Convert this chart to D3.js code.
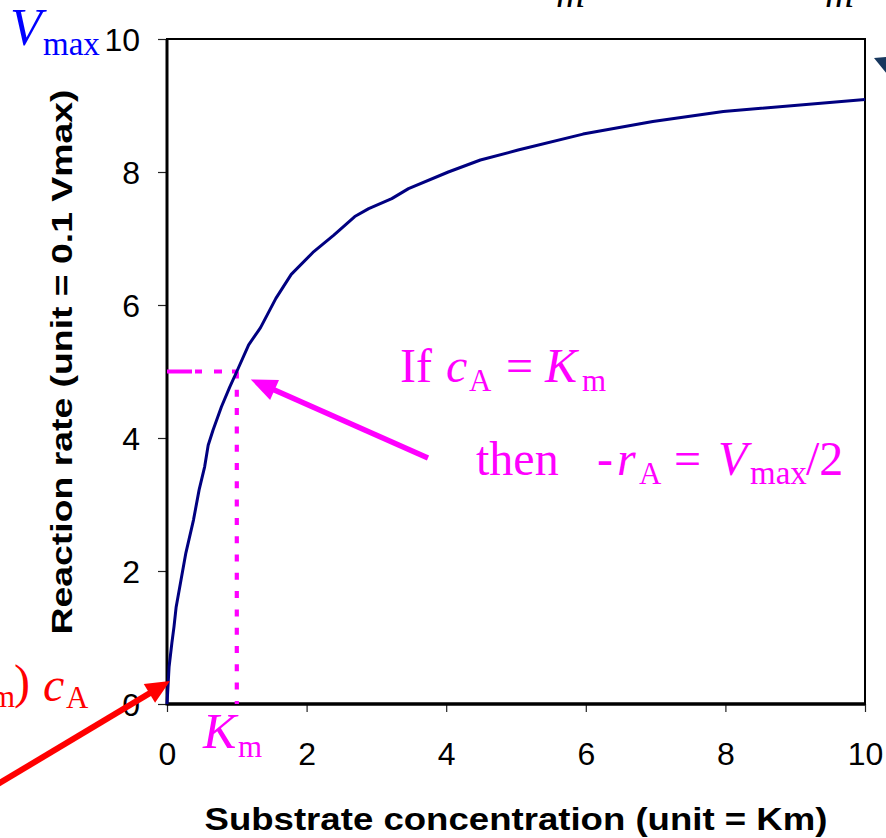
<!DOCTYPE html>
<html>
<head>
<meta charset="utf-8">
<script src="https://cdn.jsdelivr.net/npm/d3@7"></script>
<style>
  html, body { margin: 0; padding: 0; background: #fff; }
  svg { display: block; }
  .tick text { font-family: "Liberation Sans", Arial, sans-serif; }
</style>
</head>
<body>
<svg id="chart" width="886" height="838"></svg>
<script>
// Michaelis-Menten rate curve (measured points)
const substrate = [0, 0.03, 0.07, 0.10, 0.13, 0.20, 0.27, 0.38, 0.46, 0.54, 0.59, 0.66,
  0.78, 0.90, 1.00, 1.17, 1.34, 1.56, 1.78, 2.09, 2.39, 2.69, 2.89, 3.22, 3.46,
  4.03, 4.49, 5.03, 5.96, 6.96, 7.97, 10.0];
const rate = [0, 0.56, 0.92, 1.16, 1.45, 1.86, 2.27, 2.77, 3.22, 3.57, 3.89, 4.12,
  4.47, 4.77, 5.00, 5.40, 5.66, 6.10, 6.46, 6.79, 7.05, 7.33, 7.45, 7.60, 7.75,
  8.00, 8.18, 8.33, 8.57, 8.76, 8.91, 9.09];

const xTicks = [0, 2, 4, 6, 8, 10];
const yTicks = [0, 2, 4, 6, 8, 10];

const Km = 1;          // substrate concentration at half rate
const halfRate = 5;    // Vmax / 2

const xTitle = "Substrate concentration (unit = Km)";
const yTitle = "Reaction rate (unit = 0.1 Vmax)";

const svg = d3.select("#chart");
const serif = '"Liberation Serif", "Times New Roman", serif';
const sans = '"Liberation Sans", Arial, sans-serif';
const MAGENTA = "#ff00ff", RED = "#ff0000", BLUE = "#0000ff";

const x = d3.scaleLinear().domain([0, 10]).range([167, 865]);
const y = d3.scaleLinear().domain([0, 10]).range([704, 39]);

// axes
const gx = svg.append("g").attr("transform", `translate(0,${y(0)})`)
  .call(d3.axisBottom(x).tickValues(xTicks).tickSize(8).tickFormat(d3.format("d")));
gx.select(".domain").remove();
gx.selectAll(".tick line").attr("stroke", "#222").attr("stroke-width", 1.2);
gx.selectAll(".tick text").attr("dy", null).attr("y", 61)
  .attr("font-size", 32).attr("fill", "#000");

const gy = svg.append("g").attr("transform", `translate(${x(0)},0)`)
  .call(d3.axisLeft(y).tickValues(yTicks).tickSize(9).tickPadding(18).tickFormat(d3.format("d")));
gy.select(".domain").remove();
gy.selectAll(".tick line").attr("stroke", "#222").attr("stroke-width", 1.2);
gy.selectAll(".tick text").attr("dy", "0.36em").attr("font-size", 32).attr("fill", "#000");

// plot frame
svg.append("rect").attr("x", x(0)).attr("y", y(10))
  .attr("width", x(10) - x(0)).attr("height", y(0) - y(10))
  .attr("fill", "none").attr("stroke", "#000").attr("stroke-width", 2);
svg.append("line").attr("x1", x(0)).attr("x2", x(0)).attr("y1", y(10)).attr("y2", y(0) + 1.5)
  .attr("stroke", "#000").attr("stroke-width", 3);
svg.append("line").attr("x1", x(0)).attr("x2", x(10)).attr("y1", y(0)).attr("y2", y(0))
  .attr("stroke", "#000").attr("stroke-width", 3.5);

// half-rate guide lines
svg.append("line").attr("x1", x(0)).attr("x2", x(Km)).attr("y1", y(halfRate)).attr("y2", y(halfRate))
  .attr("stroke", MAGENTA).attr("stroke-width", 4).attr("stroke-dasharray", "25,3,7,12,8,10,6");
svg.append("line").attr("x1", x(Km)).attr("x2", x(Km)).attr("y1", y(halfRate)).attr("y2", y(0))
  .attr("stroke", MAGENTA).attr("stroke-width", 4.2).attr("stroke-dasharray", "7,11.3");

// rate curve
const pts = substrate.map((s, i) => [s, rate[i]]);
svg.append("path").datum(pts)
  .attr("d", d3.line().x(d => x(d[0])).y(d => y(d[1])))
  .attr("fill", "none").attr("stroke", "#000080").attr("stroke-width", 3)
  .attr("stroke-linejoin", "round");

// arrows
function arrow(x1, y1, x2, y2, color, w, headLen, headW) {
  const dx = x2 - x1, dy = y2 - y1, L = Math.hypot(dx, dy);
  const ux = dx / L, uy = dy / L, nx = -uy, ny = ux;
  const bx = x2 - ux * headLen, by = y2 - uy * headLen;
  svg.append("line").attr("x1", x1).attr("y1", y1).attr("x2", bx + ux * 2).attr("y2", by + uy * 2)
    .attr("stroke", color).attr("stroke-width", w);
  svg.append("polygon")
    .attr("points", [[x2, y2], [bx + nx * headW / 2, by + ny * headW / 2], [bx - nx * headW / 2, by - ny * headW / 2]].join(" "))
    .attr("fill", color);
}
arrow(428, 458, x(Km) + 14, y(halfRate) + 8, MAGENTA, 5.5, 26, 22);
arrow(-2, 784, x(0) + 3, y(0) - 23, RED, 6, 24, 22);

// navy arrowhead entering from the right edge
svg.append("polygon").attr("points", "874,58 887,57 887,74").attr("fill", "#17375e");

// annotation text helper
function label(txt, px, py, size, color, italic) {
  return svg.append("text").attr("x", px).attr("y", py)
    .attr("font-family", serif).attr("font-size", size)
    .attr("font-style", italic ? "italic" : "normal")
    .attr("fill", color).text(txt);
}

// V_max at the top of the rate axis
label("V", 10, 45, 52, BLUE, true);
label("max", 43, 55, 33, BLUE, false);

// partial glyphs along the top edge
label("m", 556, 7, 40, "#000", true);
label("m", 825, 7, 40, "#000", true);

// If c_A = K_m
label("If", 400, 382, 48, MAGENTA, false);
label("c", 446, 382, 48, MAGENTA, true);
label("A", 469, 391, 31, MAGENTA, false);
label("=", 506, 382, 48, MAGENTA, false);
label("K", 545, 382, 48, MAGENTA, true);
label("m", 582, 391, 31, MAGENTA, false);

// then -r_A = V_max/2
label("then", 476, 475, 48, MAGENTA, false);
label("-", 597, 475, 48, MAGENTA, false);
label("r", 617, 475, 48, MAGENTA, true);
label("A", 639, 484, 31, MAGENTA, false);
label("=", 674, 475, 48, MAGENTA, false);
label("V", 718, 475, 48, MAGENTA, true);
label("max", 750, 484, 33, MAGENTA, false);
label("/2", 806, 475, 48, MAGENTA, false);

// K_m under the axis
label("K", 203, 748, 50, MAGENTA, true);
label("m", 238, 757, 31, MAGENTA, false);

// red expression at the left edge
label("m", -9, 707, 31, RED, false);
label(")", 14, 698, 48, RED, false);
label("c", 43, 701, 48, RED, true);
label("A", 66, 708, 31, RED, false);

// axis titles
svg.append("text").attr("x", 516).attr("y", 830)
  .attr("text-anchor", "middle").attr("font-family", sans).attr("font-weight", "bold")
  .attr("font-size", 31).attr("textLength", 623).attr("lengthAdjust", "spacingAndGlyphs")
  .text(xTitle);
svg.append("text").attr("transform", "translate(72,362) rotate(-90)")
  .attr("text-anchor", "middle").attr("font-family", sans).attr("font-weight", "bold")
  .attr("font-size", 30).attr("textLength", 545).attr("lengthAdjust", "spacingAndGlyphs")
  .text(yTitle);
</script>
</body>
</html>
